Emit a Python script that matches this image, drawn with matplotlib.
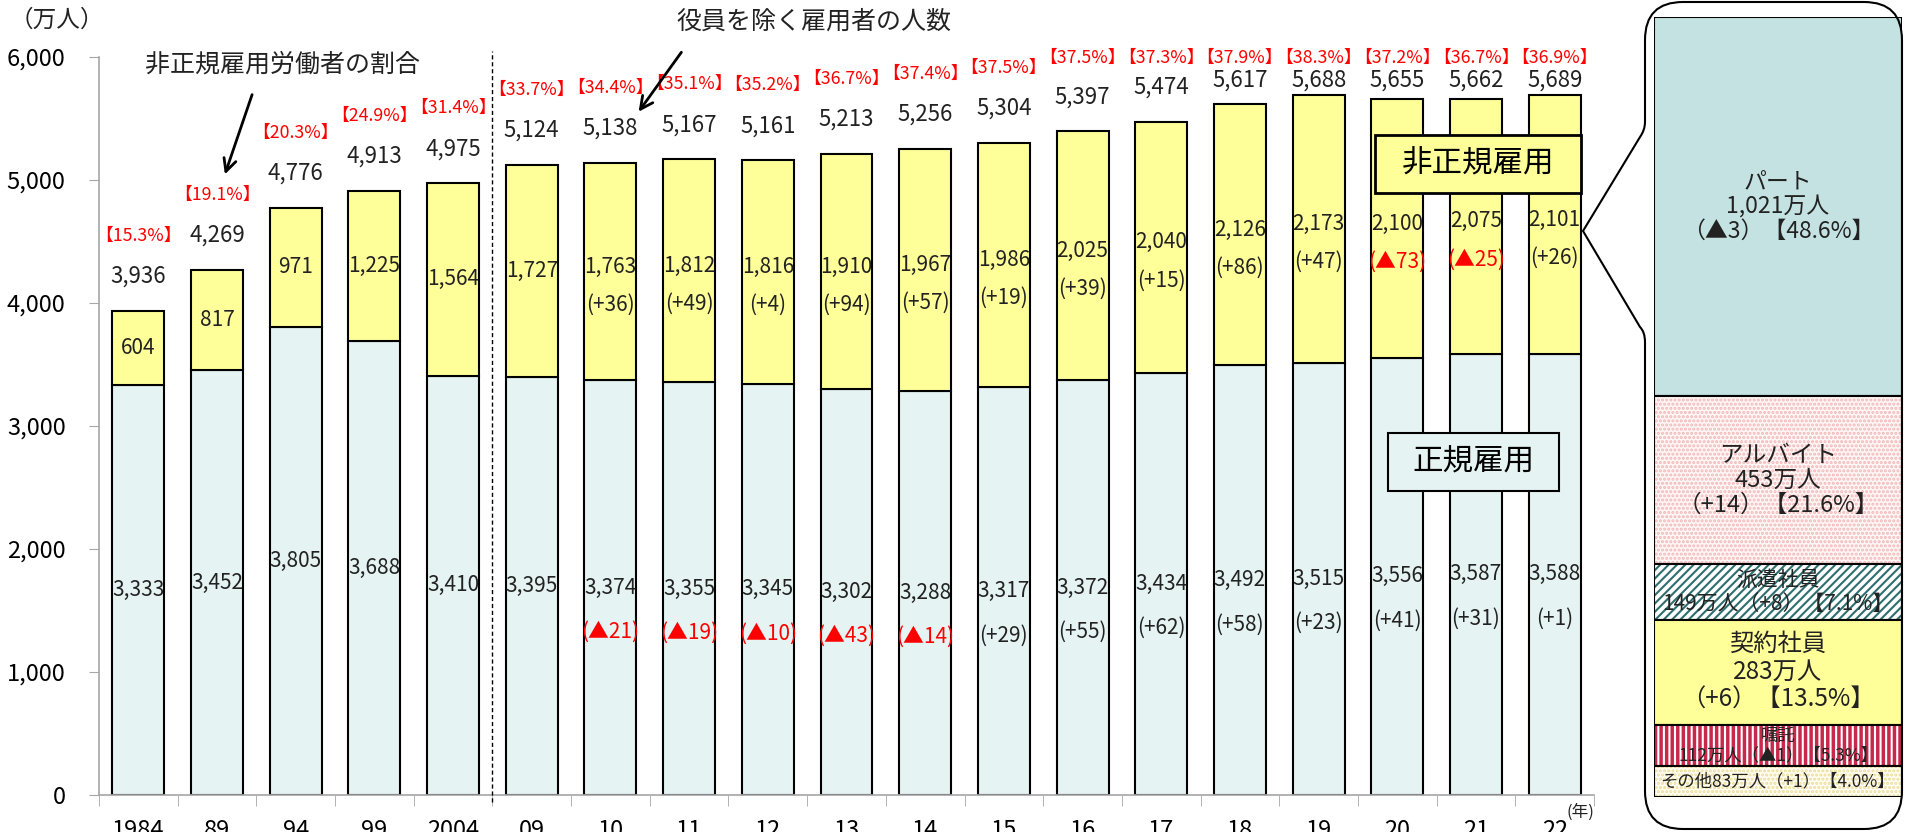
import numpy as np
import matplotlib
matplotlib.use('Agg')
import matplotlib.pyplot as plt
from matplotlib.path import Path
from matplotlib.patches import PathPatch, Rectangle

plt.rcParams['font.family'] = ['Noto Sans CJK JP', 'DejaVu Sans']
plt.rcParams['hatch.linewidth'] = 1.5

# 役員を除く雇用者（万人）
years = ['1984', '89', '94', '99', '2004', '09', '10', '11', '12', '13', '14',
         '15', '16', '17', '18', '19', '20', '21', '22']
regular = [3333, 3452, 3805, 3688, 3410, 3395, 3374, 3355, 3345, 3302, 3288,
           3317, 3372, 3434, 3492, 3515, 3556, 3587, 3588]
nonregular = [604, 817, 971, 1225, 1564, 1727, 1763, 1812, 1816, 1910, 1967,
              1986, 2025, 2040, 2126, 2173, 2100, 2075, 2101]
totals = [3936, 4269, 4776, 4913, 4975, 5124, 5138, 5167, 5161, 5213, 5256,
          5304, 5397, 5474, 5617, 5688, 5655, 5662, 5689]
share = [15.3, 19.1, 20.3, 24.9, 31.4, 33.7, 34.4, 35.1, 35.2, 36.7, 37.4,
         37.5, 37.5, 37.3, 37.9, 38.3, 37.2, 36.7, 36.9]
# 前年差（2010年以降）
regular_chg = [None] * 6 + [-21, -19, -10, -43, -14, 29, 55, 62, 58, 23, 41, 31, 1]
nonregular_chg = [None] * 6 + [36, 49, 4, 94, 57, 19, 39, 15, 86, 47, -73, -25, 26]

# 2022年 非正規雇用の内訳
kinds = ['パート', 'アルバイト', '派遣社員', '契約社員', '嘱託', 'その他']
kind_vals = [1021, 453, 149, 283, 112, 83]
kind_chg = [-3, 14, 8, 6, -1, 1]
kind_share = [48.6, 21.6, 7.1, 13.5, 5.3, 4.0]

light = '#E6F3F3'
yellow = '#FFFF99'
grey = '#A6A6A6'


def chg_text(v, wide=False):
    if wide:
        return ('（▲%d）' % -v) if v < 0 else ('（+%d）' % v)
    return ('(▲%d)' % -v) if v < 0 else ('(+%d)' % v)


fig = plt.figure(figsize=(19.05, 8.32), dpi=100)
ax = fig.add_axes([99 / 1905, 1 - 795 / 832, 1495 / 1905, 738 / 832])

x = np.arange(len(years))
ax.bar(x, regular, 0.66, color=light, edgecolor='black', linewidth=1.5, zorder=2)
ax.bar(x, nonregular, 0.66, bottom=regular, color=yellow, edgecolor='black',
       linewidth=1.5, zorder=2)

ax.set_xlim(-0.5, len(years) - 0.5)
ax.set_ylim(0, 6000)
ax.set_yticks(np.arange(0, 6001, 1000))
ax.set_yticklabels(['{:,}'.format(v) for v in range(0, 6001, 1000)])
for s in ['top', 'right']:
    ax.spines[s].set_visible(False)
for s in ['left', 'bottom']:
    ax.spines[s].set_color(grey)
    ax.spines[s].set_linewidth(1.2)
ax.tick_params(axis='y', length=7, color=grey, labelsize=17, pad=17)
ax.set_xticks(x)
ax.set_xticklabels(years)
ax.set_xticks(np.arange(-0.5, len(years)), minor=True)
ax.tick_params(axis='x', which='major', length=0, labelsize=17, pad=17)
ax.tick_params(axis='x', which='minor', length=8, color=grey)

ax.vlines(4.5, -60, 6050, colors='black', linestyles=(0, (3, 2)), linewidth=1,
          clip_on=False, zorder=3)

for i in range(len(years)):
    ty = min(totals[i] + 280, 5810)
    ax.text(x[i], ty, '{:,}'.format(totals[i]), ha='center', va='center',
            fontsize=16, color='#222222', clip_on=False)
    py = min(ty + 330, 5990)
    ax.text(x[i], py, '【%.1f%%】' % share[i], ha='center', va='center',
            fontsize=12.8, color='red', clip_on=False)

    ry = regular[i] / 2
    ax.text(x[i], ry, '{:,}'.format(regular[i]), ha='center', va='center',
            fontsize=15, color='#222222', zorder=4)
    if regular_chg[i] is not None:
        c = regular_chg[i]
        ax.text(x[i], ry - 360, chg_text(c), ha='center', va='center', fontsize=15,
                color='red' if c < 0 else '#222222', zorder=4)

    ny = regular[i] + nonregular[i] / 2
    if nonregular_chg[i] is not None:
        ny += 40
    ax.text(x[i], ny, '{:,}'.format(nonregular[i]), ha='center', va='center',
            fontsize=15, color='#222222', zorder=4)
    if nonregular_chg[i] is not None:
        c = nonregular_chg[i]
        ax.text(x[i], ny - 310, chg_text(c), ha='center', va='center', fontsize=15,
                color='red' if c < 0 else '#222222', zorder=4)

# 右側：2022年の内訳
pax = fig.add_axes([1654 / 1905, 1 - 797 / 832, 248 / 1905, 780 / 832])
whole = sum(kind_vals)
pax.set_xlim(-0.5, 0.5)
pax.set_ylim(0, whole)
pax.axis('off')

styles = [
    dict(color='#C5E2E2'),
    dict(color='#FFF6F6', edgecolor='#F2B8B8', hatch='....'),
    dict(color='white', edgecolor='#2E6E6E', hatch='////'),
    dict(color=yellow),
    dict(color='#C8284C', edgecolor='white', hatch='|||'),
    dict(color='#FFFEF2', edgecolor='#EEDC9A', hatch='....'),
]
sizes = [16.5, 17, 15, 17.5, 12.5, 12.5]
top = whole
for k in range(len(kinds)):
    b = top - kind_vals[k]
    st = styles[k]
    pax.bar(0, kind_vals[k], 1, bottom=b, color=st['color'],
            edgecolor=st.get('edgecolor', 'black'), hatch=st.get('hatch'),
            linewidth=0)
    pax.bar(0, kind_vals[k], 1, bottom=b, fill=False, edgecolor='black',
            linewidth=1.5)
    num = '{:,}万人'.format(kind_vals[k])
    tail = '%s【%.1f%%】' % (chg_text(kind_chg[k], True), kind_share[k])
    if kind_vals[k] > 200:
        label = kinds[k] + '\n' + num + '\n' + tail
    elif kind_vals[k] > 100:
        label = kinds[k] + '\n' + num + tail
    else:
        label = kinds[k] + num + tail
    pax.text(0, b + kind_vals[k] / 2, label, ha='center', va='center',
             fontsize=sizes[k], linespacing=1.1, color='#222222')
    top = b

# 注記・吹き出し
ov = fig.add_axes([0, 0, 1, 1])
ov.set_xlim(0, 1905)
ov.set_ylim(832, 0)
ov.axis('off')

ov.text(57, 20, '（万人）', ha='center', va='center', fontsize=17, color='#222222')
ov.text(1580, 812, '(年)', ha='center', va='center', fontsize=12, color='#222222')

ov.text(282, 65, '非正規雇用労働者の割合', ha='center', va='center', fontsize=18,
        color='#222222')
ov.annotate('', xy=(224, 177), xytext=(253, 92),
            arrowprops=dict(arrowstyle='->,head_length=0.9,head_width=0.45',
                            lw=2, color='black'))
ov.text(814, 22, '役員を除く雇用者の人数', ha='center', va='center', fontsize=18,
        color='#222222')
ov.annotate('', xy=(637, 114), xytext=(683, 50),
            arrowprops=dict(arrowstyle='->,head_length=0.9,head_width=0.45',
                            lw=2, color='black'))

ov.add_patch(Rectangle((1375, 135), 206, 58, facecolor=yellow, edgecolor='black',
                       linewidth=2))
ov.text(1478, 164, '非正規雇用', ha='center', va='center', fontsize=22)
ov.add_patch(Rectangle((1388, 433), 171, 58, facecolor=light, edgecolor='black',
                       linewidth=1.5))
ov.text(1473, 462, '正規雇用', ha='center', va='center', fontsize=22)

L, R, T, B, r = 1645, 1902, 2, 829, 38
verts = [(L, T + r), (L, T), (L + r, T),
         (R - r, T), (R, T), (R, T + r),
         (R, B - r), (R, B), (R - r, B),
         (L + r, B), (L, B), (L, B - r),
         (L, 342), (L, 332), (1640, 327),
         (1583, 231),
         (1640, 137), (L, 130), (L, 122),
         (L, T + r)]
codes = [Path.MOVETO, Path.CURVE3, Path.CURVE3,
         Path.LINETO, Path.CURVE3, Path.CURVE3,
         Path.LINETO, Path.CURVE3, Path.CURVE3,
         Path.LINETO, Path.CURVE3, Path.CURVE3,
         Path.LINETO, Path.CURVE3, Path.CURVE3,
         Path.LINETO,
         Path.LINETO, Path.CURVE3, Path.CURVE3,
         Path.LINETO]
ov.add_patch(PathPatch(Path(verts, codes), facecolor='none', edgecolor='black',
                       linewidth=1.5))

fig.savefig('out.png', dpi=100)
